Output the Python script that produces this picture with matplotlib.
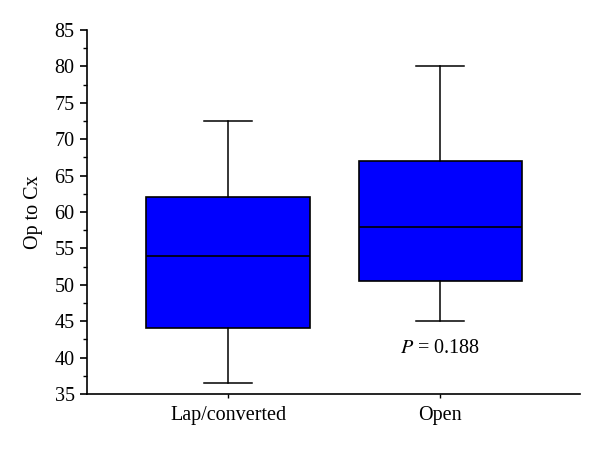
import matplotlib
matplotlib.use('Agg')
import matplotlib.pyplot as plt
from matplotlib.ticker import MultipleLocator

plt.rcParams['font.family'] = ['Liberation Serif', 'DejaVu Serif']

groups = ['Lap/converted', 'Open']
whislo = [36.5, 45.0]
q1 = [44.0, 50.5]
med = [54.0, 58.0]
q3 = [62.0, 67.0]
whishi = [72.5, 80.0]

stats = []
for i in range(len(groups)):
    stats.append({'label': groups[i], 'whislo': whislo[i], 'q1': q1[i], 'med': med[i],
                  'q3': q3[i], 'whishi': whishi[i], 'fliers': []})

fig = plt.figure(figsize=(6, 4.49), dpi=100)
ax = fig.add_axes([0.145, 0.1225, 0.822, 0.8105])
ax.bxp(stats, positions=[1, 2], widths=0.77, capwidths=0.226, patch_artist=True,
       showfliers=False,
       boxprops=dict(facecolor='#0000ff', edgecolor='black', linewidth=1.2),
       medianprops=dict(color='black', linewidth=1.2),
       whiskerprops=dict(color='black', linewidth=1.1),
       capprops=dict(color='black', linewidth=1.1))

ax.set_xlim(0.335, 2.66)
ax.set_ylim(35, 85)
ax.yaxis.set_major_locator(MultipleLocator(5))
ax.yaxis.set_minor_locator(MultipleLocator(2.5))
ax.spines['top'].set_visible(False)
ax.spines['right'].set_visible(False)
ax.spines['left'].set_linewidth(1.2)
ax.spines['bottom'].set_linewidth(1.2)
ax.tick_params(axis='y', which='major', length=5, width=1.2, labelsize=14.5, pad=4)
ax.tick_params(axis='y', which='minor', length=3, width=1.0)
ax.tick_params(axis='x', length=3, width=1.0, labelsize=14.5, pad=6)
ax.set_ylabel('Op to Cx', fontsize=14.5, labelpad=8)

ax.text(2, 41.2, r'$P$ = 0.188', ha='center', va='center', fontsize=14.5,
        math_fontfamily='stix')

fig.savefig('out.png', dpi=100)
